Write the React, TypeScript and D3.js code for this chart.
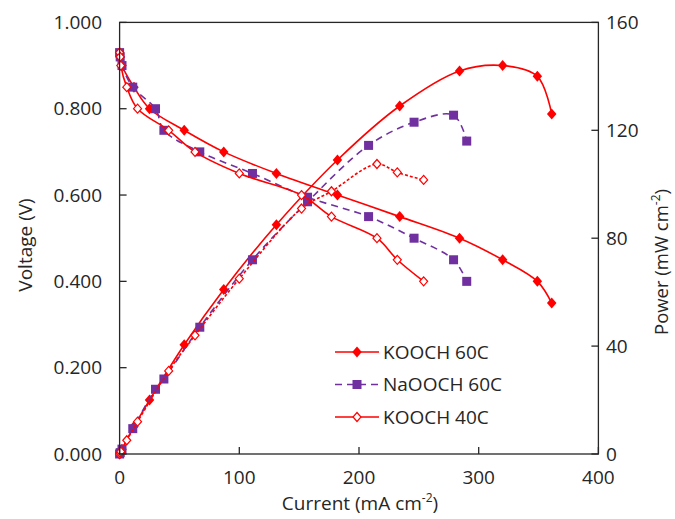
import React, { useEffect, useRef } from 'react';
import * as d3 from 'd3';

// KOOCH 60C
const k60Current = [0, 0.5, 2, 12, 25, 54, 87, 131, 182, 234, 284, 320, 349, 361];
const k60Voltage = [0.93, 0.92, 0.9, 0.85, 0.8, 0.75, 0.7, 0.65, 0.6, 0.55, 0.5, 0.45, 0.4, 0.35];
const k60Power = [0, 0.5, 1.8, 10.2, 20, 40.5, 61, 85, 109, 129, 142, 144, 140, 126];

// NaOOCH 60C
const naCurrent = [0, 0.5, 2, 11, 30, 37, 67, 111, 157, 208, 246, 279, 290];
const naVoltage = [0.93, 0.92, 0.9, 0.85, 0.8, 0.75, 0.7, 0.65, 0.595, 0.55, 0.5, 0.45, 0.4];
const naPower = [0, 0.5, 1.8, 9.4, 24, 27.8, 47, 72, 93.5, 114.4, 123, 125.6, 116];

// KOOCH 40C
const k40Current = [0, 0.5, 1, 6, 15, 41, 63, 100, 152, 177, 215, 232, 254];
const k40Voltage = [0.93, 0.92, 0.9, 0.85, 0.8, 0.75, 0.7, 0.65, 0.6, 0.55, 0.5, 0.45, 0.4];
const k40Power = [0, 0.5, 0.9, 5.1, 12, 30.8, 44, 65, 91, 97.4, 107.5, 104.4, 101.6];

const xTicks = [0, 100, 200, 300, 400];
const voltTicks = [0, 0.2, 0.4, 0.6, 0.8, 1.0];
const powerTicks = [0, 40, 80, 120, 160];

const RED = '#ff0000';
const PURPLE = '#7030a0';
const INK = '#262626';
const FONT = "'Open Sans', sans-serif";

const diamondPath = (cx, cy, w, h) =>
  `M${cx},${cy - h / 2}L${cx + w / 2},${cy}L${cx},${cy + h / 2}L${cx - w / 2},${cy}Z`;

const App = () => {
  const svgRef = useRef(null);

  useEffect(() => {
    const svg = d3.select(svgRef.current);
    svg.selectAll('*').remove();

    const left = 119.6, right = 598.4, top = 22.4, bottom = 454;

    const x = d3.scaleLinear().domain([0, 400]).range([left, right]);
    const yV = d3.scaleLinear().domain([0, 1]).range([bottom, top]);
    const yP = d3.scaleLinear().domain([0, 160]).range([bottom, top]);

    const series = [
      { name: 'KOOCH 60C', cur: k60Current, volt: k60Voltage, pow: k60Power, color: RED, vDash: null, pDash: null, marker: 'diamond' },
      { name: 'NaOOCH 60C', cur: naCurrent, volt: naVoltage, pow: naPower, color: PURPLE, vDash: '7,5', pDash: '7,5', marker: 'square' },
      { name: 'KOOCH 40C', cur: k40Current, volt: k40Voltage, pow: k40Power, color: RED, vDash: null, pDash: '3,2', marker: 'hollow' },
    ];

    const drawMarker = (g, s, px, py) => {
      if (s.marker === 'diamond') {
        g.append('path').attr('d', diamondPath(px, py, 9.5, 11)).attr('fill', s.color);
      } else if (s.marker === 'square') {
        g.append('rect').attr('x', px - 4.5).attr('y', py - 4.5)
          .attr('width', 9).attr('height', 9).attr('fill', s.color);
      } else {
        g.append('path').attr('d', diamondPath(px, py, 8, 9))
          .attr('fill', '#fff').attr('stroke', s.color).attr('stroke-width', 1.2);
      }
    };

    const plot = svg.append('g');

    series.forEach(s => {
      const vPts = s.cur.map((c, i) => [x(c), yV(s.volt[i])]);
      const pPts = s.cur.map((c, i) => [x(c), yP(s.pow[i])]);
      const line = d3.line().curve(d3.curveCatmullRom.alpha(0.5));

      plot.append('path').attr('d', line(vPts)).attr('fill', 'none')
        .attr('stroke', s.color).attr('stroke-width', 1.6)
        .attr('stroke-dasharray', s.vDash);
      plot.append('path').attr('d', line(pPts)).attr('fill', 'none')
        .attr('stroke', s.color).attr('stroke-width', 1.6)
        .attr('stroke-dasharray', s.pDash);

      vPts.forEach(p => drawMarker(plot, s, p[0], p[1]));
      pPts.forEach(p => drawMarker(plot, s, p[0], p[1]));
    });

    // frame
    svg.append('rect').attr('x', left).attr('y', top)
      .attr('width', right - left).attr('height', bottom - top)
      .attr('fill', 'none').attr('stroke', INK).attr('stroke-width', 1.3);

    const ticks = svg.append('g').attr('stroke', INK).attr('stroke-width', 1.3);
    xTicks.forEach(t => {
      ticks.append('line').attr('x1', x(t)).attr('x2', x(t)).attr('y1', bottom).attr('y2', bottom - 7);
    });
    voltTicks.forEach(t => {
      ticks.append('line').attr('x1', left).attr('x2', left + 7).attr('y1', yV(t)).attr('y2', yV(t));
    });
    powerTicks.forEach(t => {
      ticks.append('line').attr('x1', right).attr('x2', right - 7).attr('y1', yP(t)).attr('y2', yP(t));
    });

    const labels = svg.append('g').attr('font-family', FONT).attr('font-size', 19).attr('fill', INK);

    xTicks.forEach(t => {
      labels.append('text').attr('x', x(t)).attr('y', 484)
        .attr('text-anchor', 'middle').text(d3.format('d')(t));
    });
    voltTicks.forEach(t => {
      labels.append('text').attr('x', 102).attr('y', yV(t)).attr('dy', '0.35em')
        .attr('text-anchor', 'end').text(d3.format('.3f')(t));
    });
    powerTicks.forEach(t => {
      labels.append('text').attr('x', 606).attr('y', yP(t)).attr('dy', '0.35em')
        .attr('text-anchor', 'start').text(d3.format('d')(t));
    });

    // axis titles
    const xt = labels.append('text').attr('x', 360).attr('y', 510).attr('text-anchor', 'middle');
    xt.append('tspan').text('Current (mA cm');
    xt.append('tspan').attr('font-size', 12).attr('dy', -8).text('-2');
    xt.append('tspan').attr('dy', 8).text(')');

    labels.append('text').attr('transform', 'translate(25,245) rotate(-90)')
      .attr('text-anchor', 'middle').attr('dy', '0.35em').text('Voltage (V)');

    const pt = labels.append('text').attr('transform', 'translate(662,262) rotate(-90)')
      .attr('text-anchor', 'middle').attr('dy', '0.3em').attr('font-size', 18.5);
    pt.append('tspan').text('Power (mW cm');
    pt.append('tspan').attr('font-size', 12).attr('dy', -8).text('-2');
    pt.append('tspan').attr('dy', 8).text(')');

    // legend
    const legend = svg.append('g');
    series.forEach((s, i) => {
      const ly = 352 + i * 32.5;
      legend.append('line').attr('x1', 335).attr('x2', 379).attr('y1', ly).attr('y2', ly)
        .attr('stroke', s.color).attr('stroke-width', 1.6)
        .attr('stroke-dasharray', s.vDash);
      drawMarker(legend, s, 357, ly);
      legend.append('text').attr('x', 383).attr('y', ly).attr('dy', '0.35em')
        .attr('font-family', FONT).attr('font-size', 19).attr('fill', INK)
        .text(s.name);
    });
  }, []);

  return (
    <svg ref={svgRef} width="675" height="519"
      style={{ position: 'absolute', left: 0, top: 0, background: '#fff' }}></svg>
  );
};

export default App;
